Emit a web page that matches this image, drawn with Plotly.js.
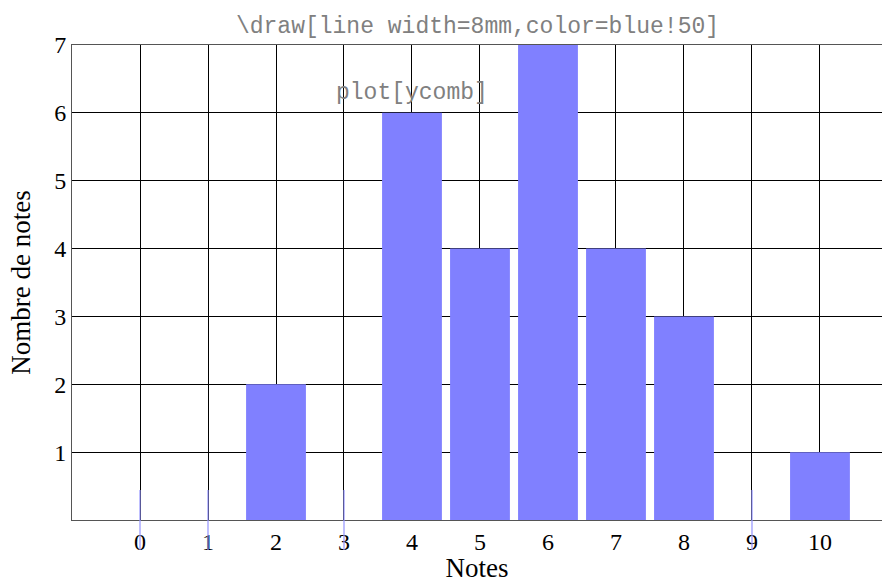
<!DOCTYPE html>
<html>
<head>
<meta charset="utf-8">
<script src="https://cdn.plot.ly/plotly-3.0.1.min.js"></script>
<style>html,body{margin:0;padding:0;background:#fff;}#chart{width:882px;height:583px;}</style>
</head>
<body>
<div id="chart"></div>
<script>
const notes = [0, 1, 2, 3, 4, 5, 6, 7, 8, 9, 10];
const counts = [0, 0, 2, 0, 6, 4, 7, 4, 3, 0, 1];
const xTickLabels = ['0','1','2','3','4','5','6','7','8','9','10'];
const yTickVals = [1, 2, 3, 4, 5, 6, 7];
const titleText = '\\draw[line width=8mm,color=blue!50]';
const annotText = 'plot[ycomb]';
const annotPos = {x: 4, y: 6.3};

const serif = 'Liberation Serif, DejaVu Serif, serif';
const mono = 'Liberation Mono, DejaVu Sans Mono, monospace';
const barColor = '#8080ff';
const xRange = [-1, 10.912];

// short stubs drawn where the comb has zero height
const zeroShapes = notes.filter((n, i) => counts[i] === 0).map(n => {
  const px = (n - xRange[0]) / (xRange[1] - xRange[0]);
  return {
    type: 'line', xref: 'paper', yref: 'paper', x0: px, x1: px,
    y0: -0.063, y1: 0.063, layer: 'above',
    line: {color: '#9494ff', width: 1.2}
  };
});

const trace = {
  type: 'bar', x: notes, y: counts, width: 0.88,
  marker: {color: barColor, line: {width: 0}},
  hoverinfo: 'x+y'
};

const layout = {
  width: 882, height: 583,
  margin: {l: 72, r: 0, t: 45, b: 63},
  paper_bgcolor: '#fff', plot_bgcolor: '#fff',
  showlegend: false,
  title: {text: titleText, x: 0.5414, xanchor: 'center', y: 0.957, yanchor: 'middle',
          font: {family: mono, size: 23, color: '#808080'}},
  xaxis: {
    range: xRange, tickmode: 'array', tickvals: notes, ticktext: xTickLabels,
    showgrid: true, gridcolor: '#000', gridwidth: 1, zeroline: false,
    showline: true, linecolor: '#555', linewidth: 1, mirror: true, ticks: '',
    tickfont: {family: serif, size: 24, color: '#000'},
    title: {text: 'Notes', font: {family: serif, size: 27, color: '#000'}, standoff: 6}
  },
  yaxis: {
    range: [0, 7], tickmode: 'array', tickvals: yTickVals,
    showgrid: true, gridcolor: '#000', gridwidth: 1, zeroline: false,
    showline: true, linecolor: '#555', linewidth: 1, mirror: true, ticks: '',
    tickfont: {family: serif, size: 24, color: '#000'},
    title: {text: 'Nombre de notes', font: {family: serif, size: 27, color: '#000'}, standoff: 15}
  },
  shapes: zeroShapes,
  annotations: [{
    x: annotPos.x, y: annotPos.y, xref: 'x', yref: 'y', text: annotText, showarrow: false,
    font: {family: mono, size: 23, color: '#808080'}
  }]
};

Plotly.newPlot('chart', [trace], layout, {displayModeBar: false, staticPlot: true});
</script>
</body>
</html>
